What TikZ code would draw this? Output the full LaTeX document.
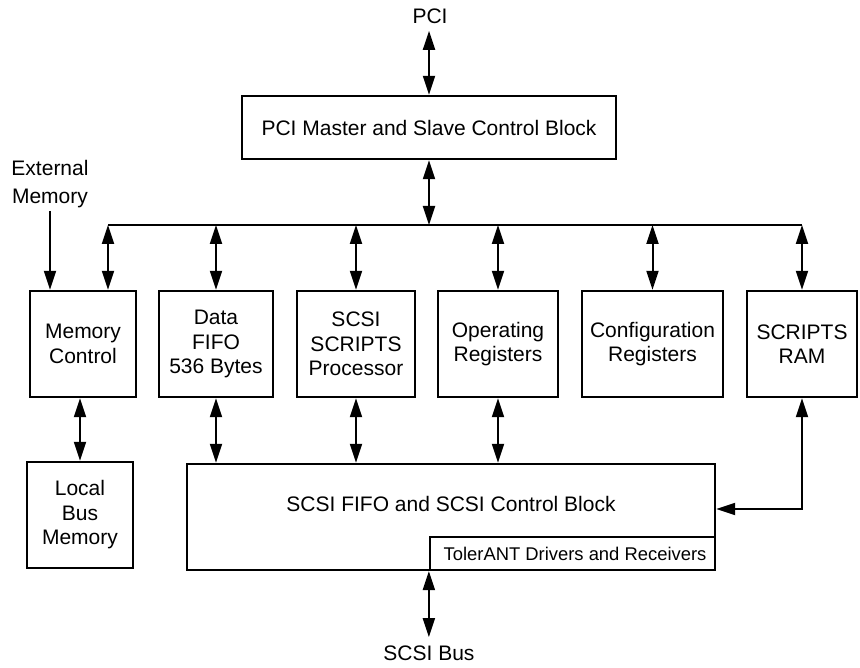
\documentclass[tikz,border=0pt]{standalone}
\usepackage{fontspec}
\setmainfont{Liberation Sans}
\usetikzlibrary{arrows.meta}
\begin{document}
\begin{tikzpicture}[x=1pt,y=-1pt,
  box/.style={draw, line width=2.3pt, inner sep=0pt, align=center,
    font=\fontsize{21}{24.5}\selectfont},
  lbl/.style={inner sep=0pt, align=center, font=\fontsize{21}{28}\selectfont},
  dbl/.style={line width=2pt, {Triangle[length=19pt,width=12pt]}-{Triangle[length=19pt,width=12pt]}},
  sgl/.style={line width=2pt, -{Triangle[length=19pt,width=12pt]}},
  bus/.style={line width=2pt}]
\useasboundingbox (0,0) rectangle (860,668);
% labels
\node[lbl] (pcil) at (430,16) {PCI};
\node[lbl] (ext) at (50,184) {External\\Memory};
\node[lbl] (sbus) at (429,653) {SCSI Bus};
% boxes
\node[box, minimum width=374pt, minimum height=63pt] (pci) at (429,127.5) {PCI Master and Slave Control Block};
\node[box, minimum width=106pt, minimum height=106pt] (mc) at (83,344) {Memory\\Control};
\node[box, minimum width=114pt, minimum height=106pt] (fifo) at (216,344) {Data\\FIFO\\536 Bytes};
\node[box, minimum width=118pt, minimum height=106pt] (proc) at (356,344) {SCSI\\SCRIPTS\\Processor};
\node[box, minimum width=120pt, minimum height=106pt] (opr) at (498,344) {Operating\\Registers};
\node[box, minimum width=141pt, minimum height=106pt] (cfg) at (652.5,344) {Configuration\\Registers};
\node[box, minimum width=110pt, minimum height=106pt] (ram) at (802,344) {SCRIPTS\\RAM};
\node[box, minimum width=106pt, minimum height=106pt] (lbm) at (80,515) {Local\\Bus\\Memory};
\node[box, minimum width=528pt, minimum height=106pt] (scsi) at (451,517) {};
\node[font=\fontsize{21}{24.5}\selectfont, inner sep=0pt] (scsit) at (451,504) {SCSI FIFO and SCSI Control Block};
\node[box, minimum width=285pt, minimum height=33pt, font=\fontsize{18.4}{22}\selectfont] (tol) at (572.5,553.5) {\hspace*{5pt}TolerANT Drivers and Receivers};
% bus
\coordinate (busL) at (108,225);
\coordinate (busR) at (802,225);
\draw[bus] (busL) -- (busR);
% connectors
\draw[dbl] (pci.north) -- ++(0,-64);
\draw[dbl] (pci.south) -- (pci.south |- busL);
\draw[sgl] (ext.south |- 0,211) -- (ext.south |- mc.north);
\draw[dbl] (busL) -- (busL |- mc.north);
\draw[dbl] (fifo.north |- busL) -- (fifo.north);
\draw[dbl] (proc.north |- busL) -- (proc.north);
\draw[dbl] (opr.north |- busL) -- (opr.north);
\draw[dbl] (cfg.north |- busL) -- (cfg.north);
\draw[dbl] (busR) -- (ram.north);
\draw[dbl] (lbm.north |- mc.south) -- (lbm.north);
\draw[dbl] (fifo.south) -- (fifo.south |- scsi.north);
\draw[dbl] (proc.south) -- (proc.south |- scsi.north);
\draw[dbl] (opr.south) -- (opr.south |- scsi.north);
\draw[dbl] (ram.south) -- (ram.south |- 0,509) -- (scsi.east |- 0,509);
\draw[dbl] (tol.south west) -- ++(0,66);
\end{tikzpicture}
\end{document}
